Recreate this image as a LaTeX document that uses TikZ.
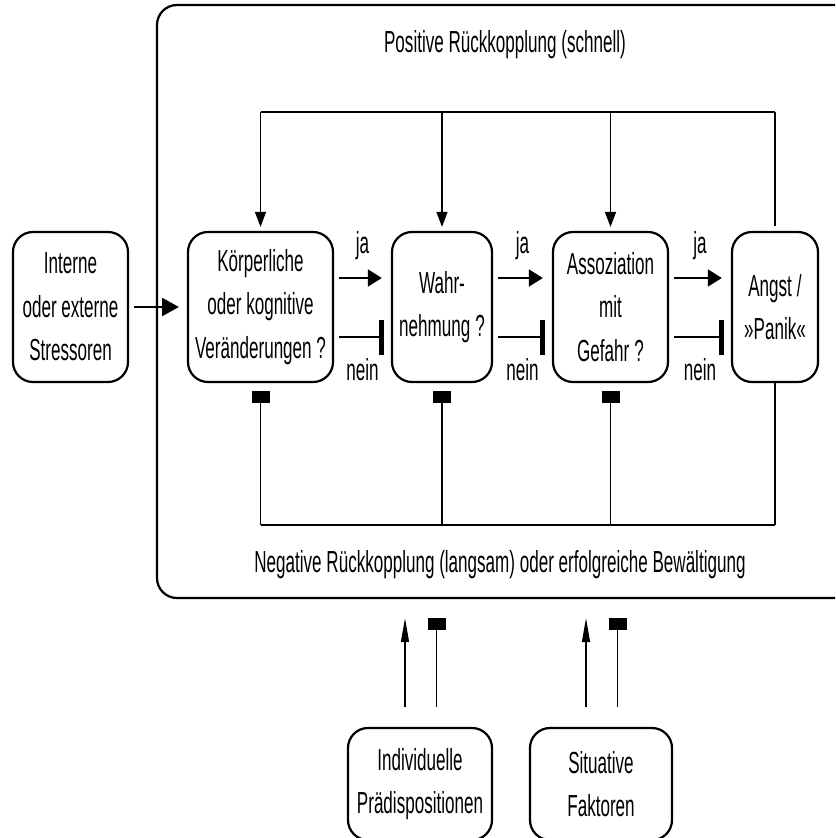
\documentclass[tikz,border=0pt]{standalone}
\usepackage{fontspec}
\setmainfont{Liberation Sans}[FakeStretch=0.56]
\usetikzlibrary{arrows.meta,positioning}

\begin{document}
\begin{tikzpicture}[x=0.03cm,y=-0.03cm,
    font=\fontsize{26}{37}\selectfont,
    box/.style={draw,line width=1.9pt,rounded corners=0.6cm,align=center,
                inner sep=0pt,minimum height=4.5cm},
    thinline/.style={line width=1.2pt},
    jaarrow/.style={line width=2.4pt,-{Triangle[length=0.42cm,width=0.5cm]},
                    shorten <=0.15cm,shorten >=0.27cm},
    neinbar/.style={line width=2.4pt,-{Rectangle[length=0.15cm,width=1.05cm]},
                    shorten <=0.15cm,shorten >=0.2cm},
    posarrow/.style={thinline,-{Triangle[length=0.45cm,width=0.33cm]},
                     shorten >=0.12cm},
    negbar/.style={thinline,-{Rectangle[length=0.36cm,width=0.54cm]},
                   shorten >=0.24cm},
    uparrow/.style={thinline,-{Triangle[length=0.72cm,width=0.24cm]}}]

  \useasboundingbox (0,0) rectangle (835,838);
  \clip (0,0) rectangle (835,838);

  \node[draw,line width=1.9pt,rounded corners=0.6cm,minimum width=21.09cm,
        minimum height=17.79cm] (system) at (508.5,301.5) {};

  \node[box,minimum width=3.45cm] (stress) at (70.5,307)
    {Interne\\oder externe\\Stressoren};
  \node[box,minimum width=4.35cm] (koerper) at (260.5,307)
    {Körperliche\\oder kognitive\\Veränderungen ?};
  \node[box,minimum width=3.0cm] (wahr) at (442,307)
    {Wahr-\\nehmung\,?};
  \node[box,minimum width=3.45cm] (assoz) at (610.5,307)
    {Assoziation\\mit\\Gefahr\,?};
  \node[box,minimum width=2.58cm] (angst) at (775,307)
    {Angst\,/\\»Panik«};
  \node[box,minimum width=4.32cm,minimum height=3.36cm] (indiv) at (420,784)
    {Individuelle\\Prädispositionen};
  \node[box,minimum width=4.26cm,minimum height=3.36cm] (situ) at (601,784)
    {Situative\\Faktoren};

  \node (postxt) at (505,45) {Positive Rückkopplung (schnell)};
  \node (negtxt) at (500,565) {Negative Rückkopplung (langsam) oder erfolgreiche Bewältigung};

  \coordinate (pos) at (0,112);
  \coordinate (neg) at (0,525);

  \draw[thinline,-{Triangle[length=0.5cm,width=0.54cm]},
        shorten <=0.15cm,shorten >=0.24cm] (stress) -- (koerper);

  \foreach \a/\b in {koerper/wahr,wahr/assoz,assoz/angst}{
    \draw[jaarrow] ([yshift=0.87cm]\a.east) -- ([yshift=0.87cm]\b.west)
      node[midway,anchor=base,inner sep=0pt,yshift=0.75cm] {ja};
    \draw[neinbar] ([yshift=-0.9cm]\a.east) -- ([yshift=-0.9cm]\b.west)
      node[midway,anchor=base,inner sep=0pt,yshift=-1.29cm] {nein};
  }

  \draw[thinline] (koerper.north |- pos) -- (angst.north |- pos);
  \foreach \b in {koerper,wahr,assoz}
    \draw[posarrow] (\b.north |- pos) -- (\b.north);
  \draw[thinline,shorten <=0.15cm] (angst.north) -- (angst.north |- pos);

  \draw[thinline] (koerper.south |- neg) -- (angst.south |- neg);
  \foreach \b in {koerper,wahr,assoz}
    \draw[negbar] (\b.south |- neg) -- (\b.south);
  \draw[thinline] (angst.south) -- (angst.south |- neg);

  \foreach \b in {indiv,situ}{
    \draw[uparrow,shorten <=0.6cm,shorten >=0.57cm]
      ([xshift=-0.45cm]\b.north) -- ([xshift=-0.45cm]\b.north |- system.south);
    \draw[negbar,shorten <=0.6cm,shorten >=0.57cm]
      ([xshift=0.5cm]\b.north) -- ([xshift=0.5cm]\b.north |- system.south);
  }
\end{tikzpicture}
\end{document}
